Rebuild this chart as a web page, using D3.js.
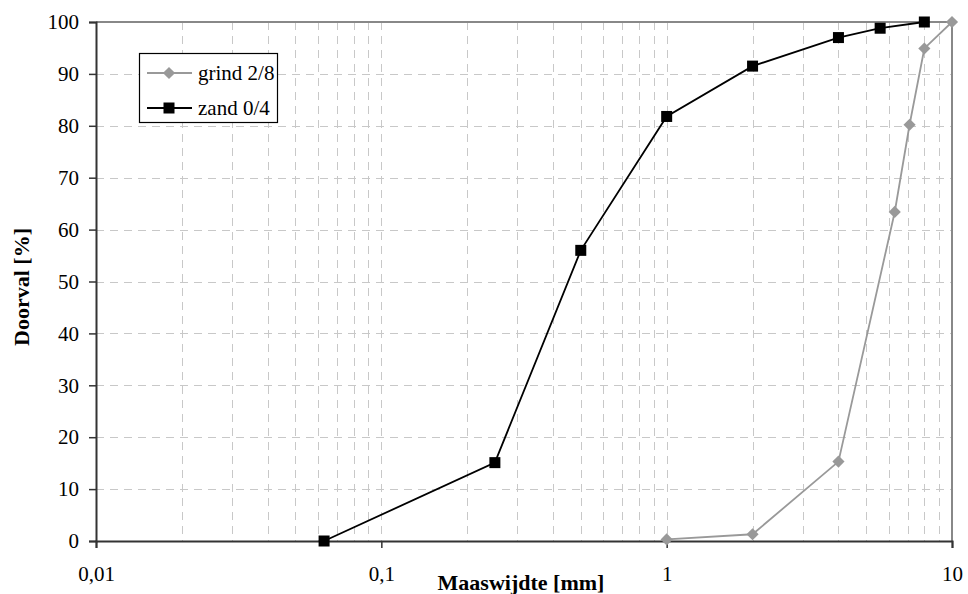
<!DOCTYPE html>
<html><head><meta charset="utf-8">
<script src="https://cdn.jsdelivr.net/npm/d3@7"></script>
<style>body{margin:0;background:#fff}svg{display:block}svg text{font-family:"Liberation Serif","Times New Roman",Times,Tinos,"Noto Serif","DejaVu Serif",serif !important}</style>
</head><body><svg id="c" width="968" height="594"></svg>
<script>
const grindX = [1, 2, 4, 6.3, 7.1, 8, 10];
const grindY = [0.3, 1.3, 15.3, 63.4, 80.2, 94.9, 100];
const zandX = [0.063, 0.25, 0.5, 1, 2, 4, 5.6, 8];
const zandY = [0, 15.1, 56, 81.8, 91.5, 97, 98.8, 100];
const xTicks = [0.01, 0.1, 1, 10];
const xTickLabels = ["0,01", "0,1", "1", "10"];
const yTicks = [0,10,20,30,40,50,60,70,80,90,100];
const seriesNames = ["grind 2/8", "zand 0/4"];

const FONT = '"Liberation Serif","Times New Roman",Times,serif';
const svg = d3.select("#c");
const L = 96, R = 952, T = 22, B = 541;
const x = d3.scaleLog().domain([0.01, 10]).range([L, R]);
const y = d3.scaleLinear().domain([0, 100]).range([B, T]);

// minor gridlines
const minor = [];
[0.01, 0.1, 1].forEach(d => { for (let k = 1; k <= 9; k++) minor.push(d * k); });
svg.append("g").selectAll("line").data(minor.filter(v => v > 0.011)).join("line")
  .attr("x1", d => Math.round(x(d)) + 0.5).attr("x2", d => Math.round(x(d)) + 0.5)
  .attr("y1", T).attr("y2", B)
  .attr("stroke", "#c8c8c8").attr("stroke-width", 1).attr("stroke-dasharray", "8,6");
svg.append("g").selectAll("line").data(yTicks.filter(v => v > 0 && v < 100)).join("line")
  .attr("x1", L).attr("x2", R)
  .attr("y1", d => Math.round(y(d)) + 0.5).attr("y2", d => Math.round(y(d)) + 0.5)
  .attr("stroke", "#c8c8c8").attr("stroke-width", 1).attr("stroke-dasharray", "8,6");

// top and right border
svg.append("line").attr("x1", L).attr("x2", R).attr("y1", T).attr("y2", T).attr("stroke", "#888").attr("stroke-width", 2);
svg.append("line").attr("x1", R).attr("x2", R).attr("y1", T).attr("y2", B).attr("stroke", "#888").attr("stroke-width", 2);

// axes
const yAxis = d3.axisLeft(y).tickValues(yTicks).tickSize(7).tickPadding(10).tickFormat(d3.format("d"));
const gy = svg.append("g").attr("transform", `translate(${L},0)`).call(yAxis);
gy.attr("font-family", FONT);
gy.select(".domain").attr("stroke", "#333").attr("stroke-width", 2);
gy.selectAll(".tick line").attr("stroke", "#333").attr("stroke-width", 1.5);
gy.selectAll("text").attr("font-size", 21).attr("fill", "#000").style("font-family", FONT);

const xAxis = d3.axisBottom(x).tickValues(xTicks).tickSize(7).tickPadding(18)
  .tickFormat((d, i) => xTickLabels[i]);
const gx = svg.append("g").attr("transform", `translate(0,${B})`).call(xAxis);
gx.attr("font-family", FONT);
gx.select(".domain").attr("stroke", "#333").attr("stroke-width", 2);
gx.selectAll(".tick line").attr("stroke", "#333").attr("stroke-width", 1.5);
gx.selectAll("text").attr("font-size", 21).attr("fill", "#000").attr("y", 40).attr("dy", null).style("font-family", FONT);

// series
const gray = "#999";
const line = d3.line().x(d => x(d[0])).y(d => y(d[1]));
const gData = grindX.map((v, i) => [v, grindY[i]]);
const zData = zandX.map((v, i) => [v, zandY[i]]);
svg.append("path").datum(gData).attr("d", line).attr("fill", "none").attr("stroke", gray).attr("stroke-width", 1.8);
svg.append("path").datum(zData).attr("d", line).attr("fill", "none").attr("stroke", "#000").attr("stroke-width", 1.8);
const dia = d3.symbol().type(d3.symbolSquare).size(74);
svg.append("g").selectAll("path").data(gData).join("path")
  .attr("d", dia).attr("transform", d => `translate(${x(d[0])},${y(d[1])}) rotate(45)`)
  .attr("fill", gray);
svg.append("g").selectAll("rect").data(zData).join("rect")
  .attr("x", d => x(d[0]) - 5.5).attr("y", d => y(d[1]) - 5.5).attr("width", 11).attr("height", 11)
  .attr("fill", "#000");

// legend
const lg = svg.append("g");
lg.append("rect").attr("x", 139.5).attr("y", 53.5).attr("width", 138).attr("height", 69)
  .attr("fill", "#fff").attr("stroke", "#000").attr("stroke-width", 1.2);
const rows = [{c: gray, y: 73, t: "d"}, {c: "#000", y: 108, t: "s"}];
rows.forEach((r, i) => {
  lg.append("line").attr("x1", 147).attr("x2", 192).attr("y1", r.y).attr("y2", r.y).attr("stroke", r.c).attr("stroke-width", 1.8);
  if (r.t === "d") lg.append("path").attr("d", dia()).attr("transform", `translate(169,${r.y}) rotate(45)`).attr("fill", r.c);
  else lg.append("rect").attr("x", 163.5).attr("y", r.y - 5.5).attr("width", 11).attr("height", 11).attr("fill", r.c);
  lg.append("text").attr("x", 198).attr("y", r.y + 7).attr("font-size", 21).style("font-family", FONT).text(seriesNames[i]);
});

// titles
svg.append("text").attr("x", 521).attr("y", 590).attr("text-anchor", "middle").attr("font-size", 22).attr("font-weight", "bold").style("font-family", FONT).text("Maaswijdte [mm]");
svg.append("text").attr("transform", "translate(29,287) rotate(-90)").attr("text-anchor", "middle").attr("font-size", 22).attr("font-weight", "bold").style("font-family", FONT).text("Doorval [%]");
</script></body></html>
